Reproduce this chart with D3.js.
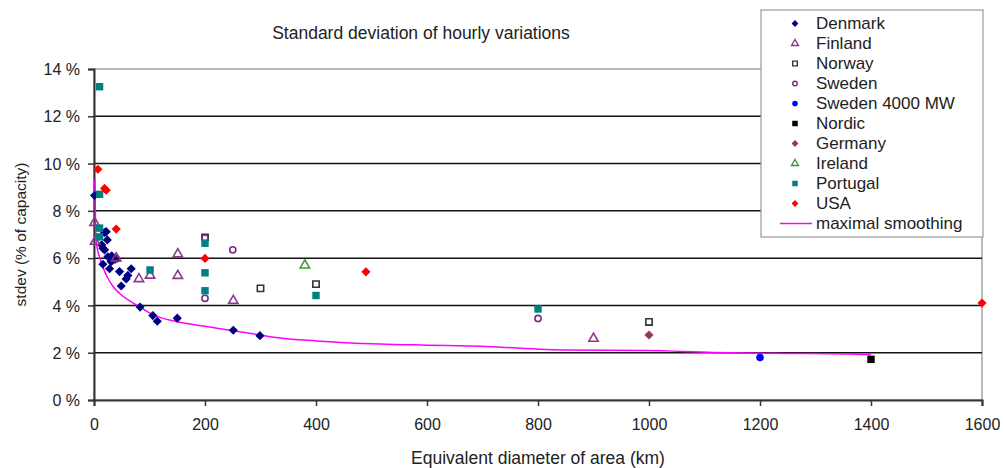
<!DOCTYPE html>
<html>
<head>
<meta charset="utf-8">
<script src="https://cdn.jsdelivr.net/npm/d3@7"></script>
<style>
  body { margin: 0; background: #fff; }
  svg { font-family: "Liberation Sans", Arial, sans-serif; }
</style>
</head>
<body>
<div id="chartDiv"></div>
<script>
// values: [diameter km, stdev %]
var denmark = [[1,8.65],[19,7.08],[22,7.12],[24,6.77],[14,6.56],[16,6.42],[19,6.35],[25,6.06],[32,6.1],
  [38,5.95],[31,5.85],[16,5.74],[28,5.55],[46,5.43],[67,5.55],[61,5.27],[58,5.12],[49,4.82],
  [83,3.93],[106,3.57],[114,3.33],[150,3.46],[251,2.95],[299,2.72]];
var finland = [[1,7.5],[2,6.7],[40,6.0],[81,5.12],[101,5.27],[151,6.17],[151,5.26],[251,4.2],[900,2.6]];
var norway = [[200,6.88],[300,4.72],[400,4.9],[1000,3.3]];
var sweden = [[200,6.85],[40,5.97],[250,6.35],[200,4.3],[800,3.45]];
var sweden4000 = [[1200,1.8]];
var nordic = [[1400,1.72]];
var germany = [[1000,2.75]];
var ireland = [[380,5.7]];
var portugal = [[10,13.25],[10,8.7],[10,7.27],[10,6.9],[101,5.5],[200,6.63],[200,5.38],[200,4.62],[400,4.42],[800,3.85]];
var usa = [[7,9.76],[19,8.95],[22,8.87],[40,7.23],[200,5.99],[490,5.42],[1600,4.1]];
var smoothing = [[1.5,9.35],[2.5,8.0],[3,7.0],[6,6.4],[10,6.05],[16,5.62],[25,5.15],[35,4.78],[48,4.47],
  [83,3.93],[107,3.6],[150,3.31],[200,3.12],[251,2.93],[299,2.75],[335,2.62],[400,2.5],[515,2.37],
  [600,2.32],[695,2.27],[852,2.11],[996,2.09],[1115,2.01],[1250,1.97],[1356,1.95],[1400,1.92]];

var xTicks = [0,200,400,600,800,1000,1200,1400,1600];
var yTicks = [0,2,4,6,8,10,12,14];

// diamonds are squares turned by 45 degrees
var series = [
  {name:"Denmark", data:denmark, shape:d3.symbolSquare, rot:45, size:42, fill:"#000080", stroke:"none"},
  {name:"Finland", data:finland, shape:d3.symbolTriangle, rot:0, size:38, fill:"none", stroke:"#8b3a8b"},
  {name:"Norway", data:norway, shape:d3.symbolSquare, rot:0, size:40, fill:"none", stroke:"#333"},
  {name:"Sweden", data:sweden, shape:d3.symbolCircle, rot:0, size:30, fill:"none", stroke:"#7a2a7a"},
  {name:"Sweden 4000 MW", data:sweden4000, shape:d3.symbolCircle, rot:0, size:45, fill:"#0000ff", stroke:"none"},
  {name:"Nordic", data:nordic, shape:d3.symbolSquare, rot:0, size:55, fill:"#000", stroke:"none"},
  {name:"Germany", data:germany, shape:d3.symbolSquare, rot:45, size:42, fill:"#993366", stroke:"none"},
  {name:"Ireland", data:ireland, shape:d3.symbolTriangle, rot:0, size:38, fill:"none", stroke:"#3a9a3a"},
  {name:"Portugal", data:portugal, shape:d3.symbolSquare, rot:0, size:55, fill:"#008080", stroke:"none"},
  {name:"USA", data:usa, shape:d3.symbolSquare, rot:45, size:42, fill:"#ff0000", stroke:"none"}
];

var width = 1004, height = 468;
var margin = {left:94, right:22, top:69, bottom:68};

var svg = d3.select("#chartDiv").append("svg")
    .attr("width", width).attr("height", height);

var x = d3.scaleLinear().domain([0,1600]).range([margin.left, width - margin.right]);
var y = d3.scaleLinear().domain([0,14]).range([height - margin.bottom, margin.top]);

// plot frame (grey) and grid
svg.append("rect")
    .attr("x", x(0)).attr("y", y(14))
    .attr("width", x(1600) - x(0)).attr("height", y(0) - y(14))
    .attr("fill", "none").attr("stroke", "#8c8c8c").attr("stroke-width", 1.2);

svg.append("g").selectAll("line")
  .data(yTicks.filter(t => t > 0 && t < 14))
  .join("line")
    .attr("x1", x(0)).attr("x2", x(1600))
    .attr("y1", d => y(d)).attr("y2", d => y(d))
    .attr("stroke", "#111").attr("stroke-width", 1.5);

// axes
var xAxis = svg.append("g")
    .attr("transform", `translate(0,${y(0)})`)
    .call(d3.axisBottom(x).tickValues(xTicks).tickSize(6).tickPadding(13).tickFormat(d3.format("d")));
var yAxis = svg.append("g")
    .attr("transform", `translate(${x(0)},0)`)
    .call(d3.axisLeft(y).tickValues(yTicks).tickSize(6).tickPadding(8).tickFormat(d => d + " %"));

[xAxis, yAxis].forEach(a => {
  a.select(".domain").attr("stroke", "#333").attr("stroke-width", 2);
  a.selectAll(".tick line").attr("stroke", "#333").attr("stroke-width", 1.5);
  a.selectAll("text").attr("fill", "#222").style("font-size", "16px")
      .style("font-family", "'Liberation Sans', Arial, sans-serif");
});
yAxis.selectAll("text").attr("dy", "0.35em");

// smoothing line
var line = d3.line().x(d => x(d[0])).y(d => y(d[1])).curve(d3.curveMonotoneX);
svg.append("path")
    .datum(smoothing)
    .attr("d", line)
    .attr("fill", "none").attr("stroke", "#ff00ff").attr("stroke-width", 1.5);

// markers
series.forEach(s => {
  svg.append("g").selectAll("path")
    .data(s.data)
    .join("path")
      .attr("transform", d => `translate(${x(d[0])},${y(d[1])}) rotate(${s.rot})`)
      .attr("d", d3.symbol().type(s.shape).size(s.size))
      .attr("fill", s.fill)
      .attr("stroke", s.stroke)
      .attr("stroke-width", s.stroke === "none" ? 0 : 1.6);
});

// titles
svg.append("text")
    .attr("x", 421).attr("y", 39)
    .attr("text-anchor", "middle")
    .style("font-size", "17.5px").attr("fill", "#222")
    .text("Standard deviation of hourly variations");

svg.append("text")
    .attr("x", (x(0) + x(1600)) / 2).attr("y", 464)
    .attr("text-anchor", "middle")
    .style("font-size", "17.5px").attr("fill", "#222")
    .text("Equivalent diameter of area (km)");

svg.append("text")
    .attr("transform", `translate(26,${(y(0) + y(14)) / 2}) rotate(-90)`)
    .attr("text-anchor", "middle")
    .style("font-size", "15.5px").attr("fill", "#222")
    .text("stdev (% of capacity)");

// legend
var lg = svg.append("g").attr("transform", "translate(761,10)");
lg.append("rect")
    .attr("width", 222).attr("height", 227)
    .attr("fill", "#fff").attr("stroke", "#999").attr("stroke-width", 1.2);

var rows = lg.selectAll("g.row")
  .data(series)
  .join("g")
    .attr("class", "row")
    .attr("transform", (d, i) => `translate(0,${13.5 + i * 20})`);

rows.append("path")
    .attr("transform", d => `translate(34,0) rotate(${d.rot})`)
    .attr("d", d => d3.symbol().type(d.shape).size(d.size * 0.55)())
    .attr("fill", d => d.fill)
    .attr("stroke", d => d.stroke)
    .attr("stroke-width", d => d.stroke === "none" ? 0 : 1.4);

rows.append("text")
    .attr("x", 55).attr("dy", "0.35em")
    .style("font-size", "17px").attr("fill", "#222")
    .text(d => d.name);

var lastRow = lg.append("g").attr("transform", `translate(0,${13.5 + 10 * 20})`);
lastRow.append("line")
    .attr("x1", 19).attr("x2", 51)
    .attr("stroke", "#ff00ff").attr("stroke-width", 1.5);
lastRow.append("text")
    .attr("x", 55).attr("dy", "0.35em")
    .style("font-size", "17px").attr("fill", "#222")
    .text("maximal smoothing");
</script>
</body>
</html>
